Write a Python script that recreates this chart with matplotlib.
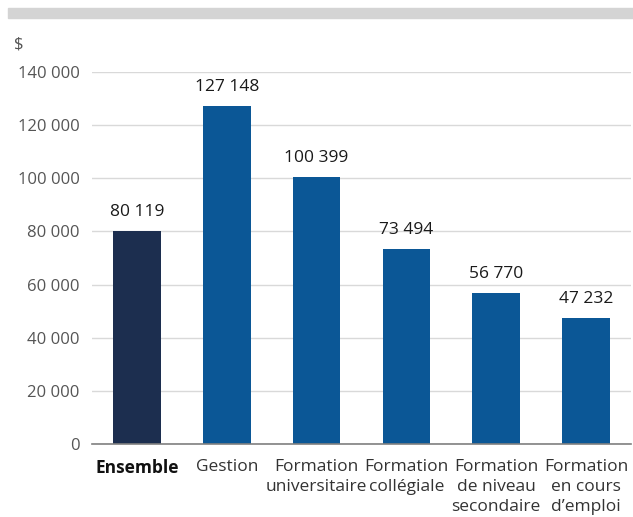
import matplotlib
matplotlib.use("Agg")
import matplotlib.pyplot as plt
from matplotlib.patches import Rectangle

categories = ["Ensemble", "Gestion", "Formation\nuniversitaire", "Formation\ncollégiale",
              "Formation\nde niveau\nsecondaire", "Formation\nen cours\nd\u2019emploi"]
values = [80119, 127148, 100399, 73494, 56770, 47232]
yticks = [0, 20000, 40000, 60000, 80000, 100000, 120000, 140000]

def fmt(v):
    return f"{v:,}".replace(",", " ")

plt.rcParams['font.family'] = ['Open Sans', 'DejaVu Sans']

fig = plt.figure(figsize=(6.33, 5.17), dpi=100)
fig.patches.append(Rectangle((8 / 633, 1 - 18 / 517), 625 / 633, 10 / 517,
                             transform=fig.transFigure, color="#d4d4d4", zorder=0))

ax = fig.add_axes([92 / 633, 1 - 444 / 517, 539 / 633, 372 / 517])
colors = ["#1c2e4f"] + ["#0b5796"] * (len(values) - 1)
x = range(len(values))
ax.bar(x, values, width=0.53, color=colors, zorder=3)

for xi, v in zip(x, values):
    ax.annotate(fmt(v), (xi, v), xytext=(0, 8), textcoords="offset points",
                ha="center", va="bottom", fontsize=12.5, color="#1a1a1a")

ax.set_xlim(-0.5, len(values) - 0.5)
ax.set_ylim(0, 140000)
ax.set_yticks(yticks)
ax.set_yticklabels([fmt(t) for t in yticks], fontsize=12, color="#555555")
ax.yaxis.grid(True, color="#d9d9d9", linewidth=1, zorder=0)
ax.tick_params(axis="y", length=0, pad=9)
ax.tick_params(axis="x", length=0, pad=11)
ax.set_xticks(list(x))
ax.set_xticklabels(categories, fontsize=12.5, color="#333333", linespacing=1.32)
ax.get_xticklabels()[0].set_fontweight("bold")
ax.get_xticklabels()[0].set_color("#111111")
for s in ["top", "right", "left"]:
    ax.spines[s].set_visible(False)
ax.spines["bottom"].set_color("#808080")
ax.spines["bottom"].set_linewidth(1.2)
ax.spines["bottom"].set_zorder(4)

fig.text(14 / 633, 1 - 45 / 517, "$", fontsize=12, color="#555555", va="center", ha="left")

fig.savefig("out.png", dpi=100)
